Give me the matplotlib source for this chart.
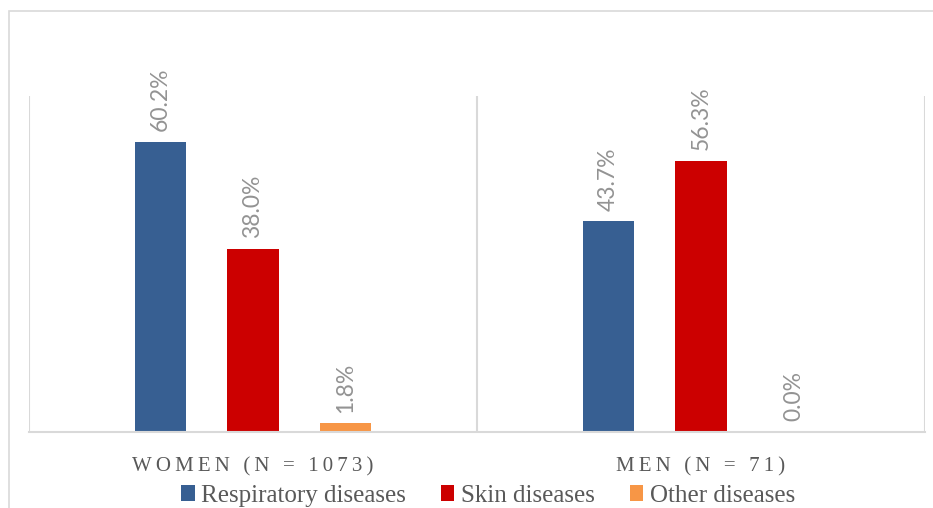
import matplotlib.pyplot as plt
import numpy as np
from matplotlib.patches import Rectangle

groups = ["WOMEN (N = 1073)", "MEN (N = 71)"]
series = ["Respiratory diseases", "Skin diseases", "Other diseases"]
respiratory = [60.2, 43.7]
skin = [38.0, 56.3]
other = [1.8, 0.0]

colors = ["#375F92", "#CC0000", "#F79646"]
grid_col = "#D9D9D9"
text_col = "#595959"

fig = plt.figure(figsize=(9.33, 5.08), dpi=100)
ax = fig.add_axes([29 / 933, 1 - 432 / 508, (925 - 29) / 933, (432 - 96) / 508])

# outer chart frame (only partly visible in the reference)
fig.add_artist(Rectangle((9 / 933, -0.05), 1.2, 1 - 11 / 508 + 0.05,
                         transform=fig.transFigure, fill=False,
                         edgecolor=grid_col, lw=1.2))

x = np.arange(len(groups))
width = 0.114
step = 0.207
for i, (name, vals) in enumerate(zip(series, [respiratory, skin, other])):
    pos = x + (i - 1) * step
    bars = ax.bar(pos, vals, width, color=colors[i], label=name)
    for b, v in zip(bars, vals):
        ax.text(b.get_x() + b.get_width() / 2, v + 2.2, f"{v:.1f}%",
                rotation=90, ha="center", va="bottom", color="#939393",
                fontsize=16.5, family="Lato")

ax.set_xlim(-0.5, 1.5)
ax.set_ylim(0, 69.7)
for s in ["top", "right", "left"]:
    ax.spines[s].set_visible(False)
ax.spines["bottom"].set_color(grid_col)
ax.spines["bottom"].set_linewidth(1.5)
for xv in [-0.5, 0.5, 1.5]:
    ax.axvline(xv, color=grid_col, lw=1.5)
ax.set_yticks([])
ax.set_xticks([])
for xi, g in zip(x, groups):
    ax.text(xi, -0.105, "\u2009".join(g), transform=ax.get_xaxis_transform(),
            ha="center", va="center", fontsize=15, color=text_col,
            family="Liberation Serif")

ax.legend(loc="center", bbox_to_anchor=(0.512, -0.19), ncol=3, frameon=False,
          prop={"family": "Liberation Serif", "size": 18}, labelcolor=text_col,
          handlelength=0.55, handleheight=0.55, handletextpad=0.25,
          columnspacing=1.4, borderaxespad=0)

fig.savefig("out.png", dpi=100)
